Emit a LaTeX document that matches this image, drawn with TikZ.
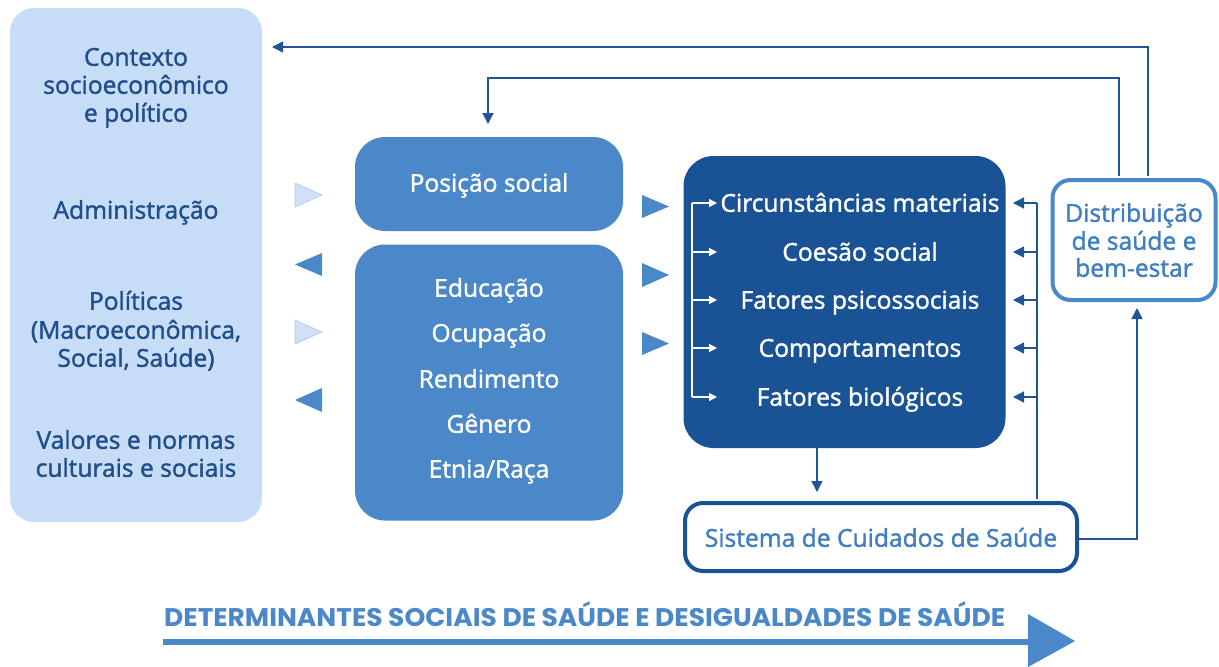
\documentclass[tikz,border=0pt]{standalone}
\usepackage{fontspec}
\usepackage{graphicx}
\setmainfont{Open Sans}[FakeBold=1.5]
\newfontfamily\titlefont{Poppins}
\usetikzlibrary{arrows.meta}
\definecolor{cLight}{HTML}{C7DCF6}
\definecolor{cTriL}{HTML}{CFE0F7}
\definecolor{cTriE}{HTML}{B0C7E8}
\definecolor{cMid}{HTML}{4A88CA}
\definecolor{cDark}{HTML}{1A5395}
\definecolor{cLine}{HTML}{1F5596}
\definecolor{cText}{HTML}{1F4E8A}
\definecolor{cDist}{HTML}{3F7EC1}
\begin{document}
\begin{tikzpicture}[x=1pt,y=-1pt,
  panel/.style={fill=cLight, rounded corners=24pt, inner sep=0pt},
  midbox/.style={fill=cMid, rounded corners=30pt, inner sep=0pt},
  darkbox/.style={fill=cDark, rounded corners=30pt, inner sep=0pt},
  outbox/.style={fill=white, draw=#1, line width=4pt, rounded corners=18pt, inner sep=0pt},
  lbl/.style={inner sep=0pt, text height=17.5pt, text depth=0pt, font=\fontsize{24.6}{28}\selectfont},
  ptext/.style={lbl, text=cText},
  wtext/.style={lbl, text=white},
  btext/.style={lbl, text=cDist},
  conn/.style={draw=cLine, line width=1.3pt, -{Triangle[length=11pt,width=11pt]}},
  plain/.style={draw=cLine, line width=1.3pt},
  inconn/.style={draw=white, line width=1.2pt, -{Triangle[length=8pt,width=8pt]}},
  triR/.style={fill=cMid},
  triL/.style={fill=cTriL, draw=cTriE, line width=0.6pt}
]
\useasboundingbox (0,0) rectangle (1219,667);

% left panel
\node[panel, minimum width=252pt, minimum height=514pt] (ctx) at (136,265) {};
\node[ptext] (t1a) at (136,57) {Contexto};
\node[ptext] (t1b) at (136,85) {socioeconômico};
\node[ptext] (t1c) at (136,113) {e político};
\node[ptext] (t2) at (136,210) {Administração};
\node[ptext] (t3a) at (136,301) {Políticas};
\node[ptext] (t3b) at (136,330) {(Macroeconômica,};
\node[ptext] (t3c) at (136,358) {Social, Saúde)};
\node[ptext] (t4a) at (136,440) {Valores e normas};
\node[ptext] (t4b) at (136,468) {culturais e sociais};

% middle boxes
\node[midbox, minimum width=268pt, minimum height=94pt] (pos) at (489,184) {};
\node[wtext] (posT) at (489,183) {Posição social};
\node[midbox, minimum width=268pt, minimum height=276pt] (edu) at (489,382.5) {};
\node[wtext] (e1) at (489,288) {Educação};
\node[wtext] (e2) at (489,333) {Ocupação};
\node[wtext] (e3) at (489,379) {Rendimento};
\node[wtext] (e4) at (489,424) {Gênero};
\node[wtext] (e5) at (489,469) {Etnia/Raça};

% triangles between panel and middle
\draw[triL] (295,183) -- (322,195) -- (295,207) -- cycle;
\fill[triR] (322,253) -- (295,264.5) -- (322,276) -- cycle;
\draw[triL] (295,320) -- (322,332) -- (295,344) -- cycle;
\fill[triR] (322,388) -- (295,400) -- (322,412) -- cycle;

% triangles between middle and dark box
\fill[triR] (642,195) -- (669,206.5) -- (642,218) -- cycle;
\fill[triR] (642,263) -- (669,275) -- (642,287) -- cycle;
\fill[triR] (642,332) -- (669,343.5) -- (642,355) -- cycle;

% dark box
\node[darkbox, minimum width=322pt, minimum height=292pt] (mat) at (844.5,302) {};
\node[wtext] (r1) at (860,203) {Circunstâncias materiais};
\node[wtext] (r2) at (860,252) {Coesão social};
\node[wtext] (r3) at (860,300) {Fatores psicossociais};
\node[wtext] (r4) at (860,348) {Comportamentos};
\node[wtext] (r5) at (860,397) {Fatores biológicos};

% inner bracket
\coordinate (b1) at (692,203);
\coordinate (b5) at (692,397);
\draw[white, line width=1.2pt] (b1) -- (b5);
\foreach \yy in {203,252,300,348,397}{
  \draw[inconn] (692,\yy) -- (717,\yy);
}

% health system and distribution
\node[outbox=cDark, minimum width=392pt, minimum height=68pt] (sys) at (881,537) {};
\node[btext] (sysT) at (881,538) {Sistema de Cuidados de Saúde};
\node[outbox=cMid, minimum width=163pt, minimum height=120pt] (dist) at (1134,240) {};
\node[btext] (dA) at (1134,213) {Distribuição};
\node[btext] (dB) at (1134,241) {de saúde e};
\node[btext] (dC) at (1134,268) {bem-estar};

% feedback arrows from sys into dark box
\coordinate (v0) at (1037,499);
\coordinate (v1) at (1037,203);
\draw[plain] (v0) -- (v1);
\foreach \yy in {203,252,300,348,397}{
  \draw[conn] (1037,\yy) -- (1013,\yy);
}

% dark box down to sys
\draw[conn] (817,448) -- (817,492);

% sys to distribution
\coordinate (s1) at (1137,539);
\draw[conn] (sys.east |- s1) -- (s1) -- (1137,308);

% top loops
\coordinate (top1) at (1148,47);
\coordinate (top2) at (1119,78);
\coordinate (top2b) at (488,78);
\draw[conn] (1148,176) -- (top1) -- (272,47);
\draw[conn] (1119,176) -- (top2) -- (top2b) -- (488,124);

% bottom title and arrow
\node[anchor=base west, inner sep=0pt, text=cMid] (title) at (164,626)
  {\resizebox{841pt}{\height}{\titlefont\bfseries\fontsize{25.5}{26}\selectfont DETERMINANTES SOCIAIS DE SAÚDE E DESIGUALDADES DE SAÚDE}};
\coordinate (la) at (163,642);
\coordinate (lb) at (1032,642);
\draw[cMid, line width=6pt] (la) -- (lb);
\fill[cMid] (1028,614) -- (1075,641) -- (1028,667) -- cycle;
\end{tikzpicture}
\end{document}
